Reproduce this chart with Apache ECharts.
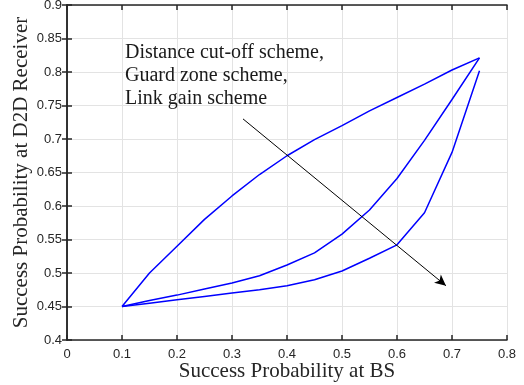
<!DOCTYPE html>
<html>
<head>
<meta charset="utf-8">
<script src="https://cdn.jsdelivr.net/npm/echarts@6/dist/echarts.min.js"></script>
<style>
  html, body { margin: 0; padding: 0; background: #fff; }
  #main { width: 524px; height: 385px; }
</style>
</head>
<body>
<div id="main"></div>
<script>
// success probability at BS (x)
var xs = [0.1, 0.15, 0.2, 0.25, 0.3, 0.35, 0.4, 0.45, 0.5, 0.55, 0.6, 0.65, 0.7, 0.75];
// success probability at D2D receiver, one list per scheme
var distanceCutoff = [0.45, 0.50, 0.54, 0.58, 0.615, 0.647, 0.675, 0.699, 0.72, 0.742, 0.762, 0.782, 0.803, 0.821];
var guardZone = [0.45, 0.459, 0.467, 0.476, 0.485, 0.496, 0.512, 0.53, 0.558, 0.594, 0.641, 0.698, 0.759, 0.821];
var linkGain = [0.45, 0.455, 0.46, 0.465, 0.47, 0.475, 0.481, 0.49, 0.503, 0.522, 0.542, 0.59, 0.68, 0.802];
// annotation arrow (data coords)
var arrowFrom = [0.32, 0.73];
var arrowTo = [0.689, 0.481];
var noteLines = ['Distance cut-off scheme,', 'Guard zone scheme,', 'Link gain scheme'];

function pairs(ys) {
	return xs.map(function(x, i) { return [x, ys[i]]; });
}

var myChart = echarts.init(document.getElementById('main'));

var axisLine = { show: true, lineStyle: { color: '#262626', width: 1.5 } };
var tickIn = { show: true, inside: true, length: 5, lineStyle: { color: '#262626', width: 1.5 } };
var serif = '"Liberation Serif", "DejaVu Serif", serif';
var tickFont = { color: '#262626', fontSize: 13, fontFamily: '"Liberation Sans", Arial, sans-serif' };
var grid = { show: true, lineStyle: { color: '#e3e3e3', width: 1 } };

function line(name, ys) {
	return {
		name: name,
		type: 'line',
		data: pairs(ys),
		symbol: 'none',
		lineStyle: { color: '#0000ff', width: 1.5 },
		z: 3
	};
}

var series = [
	line('Distance cut-off', distanceCutoff),
	line('Guard zone', guardZone),
	line('Link gain', linkGain)
];
// arrow pointing across the curves
series[0].markLine = {
	silent: true,
	animation: false,
	symbolSize: [8, 11],
	lineStyle: { color: '#000', width: 1, type: 'solid' },
	label: { show: false },
	data: [[
		{ coord: arrowFrom, symbol: 'none' },
		{ coord: arrowTo, symbol: 'arrow' }
	]]
};

option = {
	animation: false,
	backgroundColor: '#fff',
	grid: { left: 67, right: 17, top: 5, bottom: 45, containLabel: false, outerBoundsMode: 'none' },
	xAxis: [
		{
			type: 'value', min: 0, max: 0.8, interval: 0.1,
			name: 'Success Probability at BS',
			nameLocation: 'middle', nameGap: 21, nameMoveOverlap: false,
			nameTextStyle: { fontFamily: serif, fontSize: 21, color: '#262626' },
			axisLine: axisLine, axisTick: tickIn,
			axisLabel: Object.assign({ margin: 8 }, tickFont),
			splitLine: grid
		},
		{
			type: 'value', min: 0, max: 0.8, interval: 0.1, position: 'top',
			axisLine: axisLine, axisTick: tickIn,
			axisLabel: { show: false }, splitLine: { show: false }
		}
	],
	yAxis: [
		{
			type: 'value', min: 0.4, max: 0.9, interval: 0.05,
			name: 'Success Probability at D2D Receiver',
			nameLocation: 'middle', nameGap: 35, nameMoveOverlap: false,
			nameTextStyle: { fontFamily: serif, fontSize: 21, color: '#262626' },
			axisLine: axisLine, axisTick: tickIn,
			axisLabel: Object.assign({ margin: 5 }, tickFont),
			splitLine: grid
		},
		{
			type: 'value', min: 0.4, max: 0.9, interval: 0.05, position: 'right',
			axisLine: axisLine, axisTick: tickIn,
			axisLabel: { show: false }, splitLine: { show: false }
		}
	],
	graphic: [{
		type: 'text',
		left: 125,
		top: 41,
		z: 10,
		style: {
			text: noteLines.join('\n'),
			font: '20px ' + serif,
			lineHeight: 23,
			fill: '#1a1a1a'
		}
	}],
	series: series
};

myChart.setOption(option);
</script>
</body>
</html>
